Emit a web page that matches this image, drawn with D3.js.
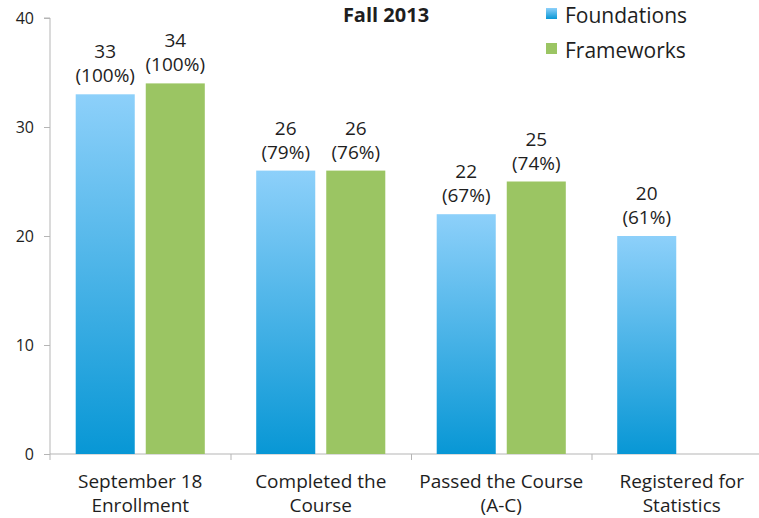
<!DOCTYPE html>
<html>
<head>
<meta charset="utf-8">
<script src="https://cdn.jsdelivr.net/npm/d3@7"></script>
<style>
  body { margin: 0; background: #fff; }
  text { font-family: "Open Sans", sans-serif; fill: #1e1e1e; }
</style>
</head>
<body>
<div id="chart"></div>
<script>
// chart data
var categories = ["September 18|Enrollment", "Completed the|Course", "Passed the Course|(A-C)", "Registered for|Statistics"];
var seriesNames = ["Foundations", "Frameworks"];
var foundations = [33, 26, 22, 20];
var frameworks = [34, 26, 25, null];
var foundationsPct = ["100%", "79%", "67%", "61%"];
var frameworksPct = ["100%", "76%", "74%", null];
var yTicks = [0, 10, 20, 30, 40];

var svgWidth = 759, svgHeight = 518;

var svg = d3.select("#chart").append("svg")
    .attr("width", svgWidth)
    .attr("height", svgHeight);

// gradient for the blue bars
var grad = svg.append("defs").append("linearGradient")
    .attr("id", "blueGrad")
    .attr("x1", 0).attr("y1", 0).attr("x2", 0).attr("y2", 1);
grad.append("stop").attr("offset", "0%").attr("stop-color", "#8dd0fa");
grad.append("stop").attr("offset", "100%").attr("stop-color", "#0897d5");

var colors = { Foundations: "url(#blueGrad)", Frameworks: "#9bc563" };

// scales
var x0 = d3.scaleBand()
    .domain(categories)
    .range([50, 50 + 4 * 180.5]);

var x1 = d3.scaleBand()
    .domain(seriesNames)
    .range([0, x0.bandwidth()])
    .paddingInner(0.157)
    .paddingOuter(0.367);

var y = d3.scaleLinear()
    .domain([0, 40])
    .range([454, 18]);

// axes
var axisColor = "#b5b5b5";

var leftAxis = d3.axisLeft(y).tickValues(yTicks).tickSize(6).tickPadding(10);
var yAxisG = svg.append("g")
    .attr("transform", "translate(50,0)")
    .call(leftAxis);
yAxisG.select(".domain").attr("stroke", axisColor).attr("d", "M-6,18H0V460");
yAxisG.selectAll(".tick line").attr("stroke", axisColor);
yAxisG.selectAll(".tick text").style("font-size", "16px").attr("fill", "#1e1e1e");

// x axis line with ticks at category boundaries
var xAxisG = svg.append("g");
xAxisG.append("line")
    .attr("x1", 50).attr("x2", svgWidth)
    .attr("y1", y(0)).attr("y2", y(0))
    .attr("stroke", axisColor);
xAxisG.selectAll(".sep")
    .data(categories.slice(1))
    .enter()
    .append("line")
    .attr("x1", d => x0(d) + 0.5).attr("x2", d => x0(d) + 0.5)
    .attr("y1", y(0)).attr("y2", y(0) + 6)
    .attr("stroke", axisColor);

// category labels
var catLabels = svg.append("g").selectAll("text")
    .data(categories)
    .enter()
    .append("text")
    .attr("text-anchor", "middle")
    .style("font-size", "19px")
    .attr("x", d => x0(d) + x0.bandwidth() / 2)
    .attr("y", 488);
catLabels.each(function(d) {
    var lines = d.split("|");
    var t = d3.select(this);
    lines.forEach(function(line, i) {
        t.append("tspan")
            .attr("x", x0(d) + x0.bandwidth() / 2)
            .attr("dy", i === 0 ? 0 : 24)
            .text(line);
    });
});

// build bar records
var bars = [];
categories.forEach(function(c, i) {
    if (foundations[i] != null) bars.push({ cat: c, series: "Foundations", value: foundations[i], pct: foundationsPct[i] });
    if (frameworks[i] != null) bars.push({ cat: c, series: "Frameworks", value: frameworks[i], pct: frameworksPct[i] });
});

var barGroups = svg.append("g").selectAll("g")
    .data(bars)
    .enter()
    .append("g");

barGroups.append("rect")
    .attr("x", d => x0(d.cat) + x1(d.series))
    .attr("y", d => y(d.value))
    .attr("width", x1.bandwidth())
    .attr("height", d => y(0) - y(d.value))
    .attr("fill", d => colors[d.series]);

barGroups.append("text")
    .attr("text-anchor", "middle")
    .style("font-size", "19px")
    .attr("x", d => x0(d.cat) + x1(d.series) + x1.bandwidth() / 2)
    .attr("y", d => y(d.value) - 36)
    .text(d => d.value);

barGroups.append("text")
    .attr("text-anchor", "middle")
    .style("font-size", "19px")
    .attr("x", d => x0(d.cat) + x1(d.series) + x1.bandwidth() / 2)
    .attr("y", d => y(d.value) - 12)
    .text(d => "(" + d.pct + ")");

// title
svg.append("text")
    .attr("x", 386)
    .attr("y", 22)
    .attr("text-anchor", "middle")
    .style("font-size", "20px")
    .style("font-weight", "bold")
    .attr("fill", "#111")
    .text("Fall 2013");

// legend
var legend = svg.append("g").selectAll("g")
    .data(seriesNames)
    .enter()
    .append("g")
    .attr("transform", (d, i) => `translate(546, ${8 + i * 35})`);

legend.append("rect")
    .attr("width", 11)
    .attr("height", 11)
    .attr("fill", d => colors[d]);

legend.append("text")
    .attr("x", 19)
    .attr("y", 15)
    .style("font-size", "21px")
    .text(d => d);
</script>
</body>
</html>
